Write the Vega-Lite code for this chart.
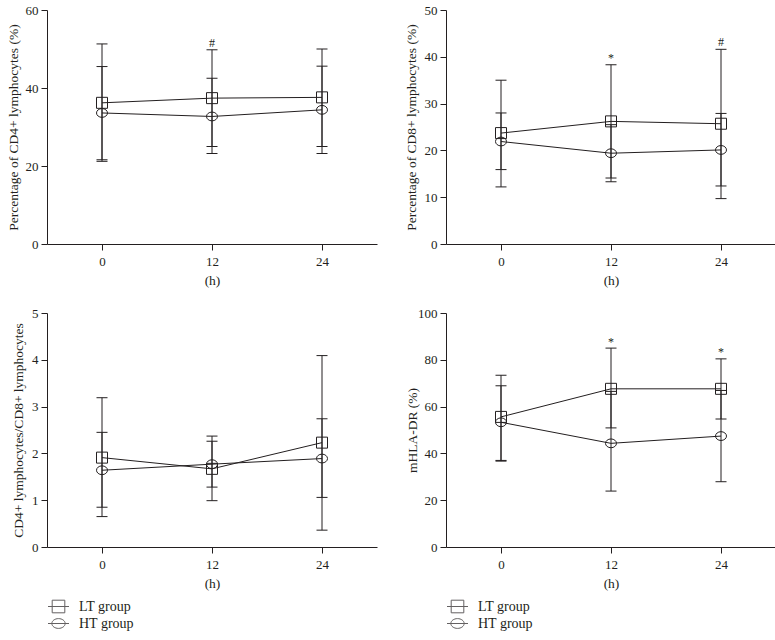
{
  "$schema": "https://vega.github.io/schema/vega-lite/v6.json",
  "background": "white",
  "padding": {"left": 5, "top": 4, "right": 5, "bottom": 5},
  "config": {
    "font": "Liberation Serif",
    "view": {"stroke": null},
    "axis": {
      "grid": false,
      "domainColor": "#231f20",
      "domainWidth": 1,
      "tickColor": "#231f20",
      "tickWidth": 1,
      "tickSize": 6,
      "labelColor": "#231f20",
      "titleColor": "#231f20",
      "labelFont": "Liberation Serif",
      "titleFont": "Liberation Serif",
      "labelFontSize": 13,
      "titleFontSize": 13.5,
      "titleFontWeight": "normal"
    },
    "axisX": {"labelPadding": 5, "titlePadding": 5, "labelFlush": false},
    "axisY": {"labelPadding": 3}
  },
  "datasets": {
    "obs": [
      {"panel": "cd4", "group": "LT group", "t": 0, "mean": 36.2, "lo": 21.2, "hi": 51.3},
      {"panel": "cd4", "group": "LT group", "t": 12, "mean": 37.4, "lo": 25.0, "hi": 49.8},
      {"panel": "cd4", "group": "LT group", "t": 24, "mean": 37.6, "lo": 25.0, "hi": 50.0},
      {"panel": "cd4", "group": "HT group", "t": 0, "mean": 33.6, "lo": 21.6, "hi": 45.5},
      {"panel": "cd4", "group": "HT group", "t": 12, "mean": 32.7, "lo": 23.2, "hi": 42.5},
      {"panel": "cd4", "group": "HT group", "t": 24, "mean": 34.4, "lo": 23.2, "hi": 45.6},
      {"panel": "cd8", "group": "LT group", "t": 0, "mean": 23.7, "lo": 12.2, "hi": 35.0},
      {"panel": "cd8", "group": "LT group", "t": 12, "mean": 26.2, "lo": 14.1, "hi": 38.3},
      {"panel": "cd8", "group": "LT group", "t": 24, "mean": 25.7, "lo": 9.7, "hi": 41.6},
      {"panel": "cd8", "group": "HT group", "t": 0, "mean": 21.9, "lo": 15.9, "hi": 28.0},
      {"panel": "cd8", "group": "HT group", "t": 12, "mean": 19.4, "lo": 13.3, "hi": 25.5},
      {"panel": "cd8", "group": "HT group", "t": 24, "mean": 20.1, "lo": 12.4, "hi": 27.9},
      {"panel": "ratio", "group": "LT group", "t": 0, "mean": 1.91, "lo": 0.65, "hi": 3.19},
      {"panel": "ratio", "group": "LT group", "t": 12, "mean": 1.67, "lo": 0.99, "hi": 2.37},
      {"panel": "ratio", "group": "LT group", "t": 24, "mean": 2.23, "lo": 0.36, "hi": 4.09},
      {"panel": "ratio", "group": "HT group", "t": 0, "mean": 1.64, "lo": 0.85, "hi": 2.45},
      {"panel": "ratio", "group": "HT group", "t": 12, "mean": 1.77, "lo": 1.28, "hi": 2.26},
      {"panel": "ratio", "group": "HT group", "t": 24, "mean": 1.89, "lo": 1.06, "hi": 2.74},
      {"panel": "hla", "group": "LT group", "t": 0, "mean": 55.6, "lo": 37.0, "hi": 73.4},
      {"panel": "hla", "group": "LT group", "t": 12, "mean": 67.6, "lo": 50.9, "hi": 85.0},
      {"panel": "hla", "group": "LT group", "t": 24, "mean": 67.6, "lo": 54.7, "hi": 80.4},
      {"panel": "hla", "group": "HT group", "t": 0, "mean": 53.3, "lo": 36.7, "hi": 68.9},
      {"panel": "hla", "group": "HT group", "t": 12, "mean": 44.3, "lo": 23.9, "hi": 66.5},
      {"panel": "hla", "group": "HT group", "t": 24, "mean": 47.4, "lo": 27.9, "hi": 66.9}
    ],
    "ann": [
      {"panel": "cd4", "t": 12, "y": 51.5, "label": "#"},
      {"panel": "cd8", "t": 12, "y": 39.7, "label": "*"},
      {"panel": "cd8", "t": 24, "y": 43.2, "label": "#"},
      {"panel": "hla", "t": 12, "y": 87.6, "label": "*"},
      {"panel": "hla", "t": 24, "y": 83.3, "label": "*"}
    ],
    "groups": [
      {"group": "LT group"},
      {"group": "HT group"}
    ]
  },
  "columns": 2,
  "spacing": {"row": 20, "column": 26},
  "resolve": {
    "scale": {"x": "independent", "y": "independent", "shape": "independent"},
    "legend": {"shape": "independent"}
  },
  "concat": [
    {
      "width": 330, "height": 234,
      "data": {"name": "obs"},
      "transform": [{"filter": "datum.panel === 'cd4'"}],
      "layer": [
        {"mark": {"type": "rule", "color": "#231f20", "strokeWidth": 1},
         "encoding": {
           "x": {"field": "t", "type": "quantitative", "title": "(h)", "scale": {"domain": [-6, 30], "nice": false, "zero": false}, "axis": {"values": [0, 12, 24]}},
           "y": {"field": "lo", "type": "quantitative", "title": "Percentage of CD4+ lymphocytes (%)", "scale": {"domain": [0, 60], "nice": false}, "axis": {"values": [0, 20, 40, 60], "titleX": -27}},
           "y2": {"field": "hi"}}},
        {"mark": {"type": "tick", "orient": "horizontal", "size": 11, "thickness": 1, "color": "#231f20", "opacity": 1},
         "encoding": {"x": {"field": "t", "type": "quantitative", "title": "(h)"}, "y": {"field": "lo", "type": "quantitative", "title": "Percentage of CD4+ lymphocytes (%)"}}},
        {"mark": {"type": "tick", "orient": "horizontal", "size": 11, "thickness": 1, "color": "#231f20", "opacity": 1},
         "encoding": {"x": {"field": "t", "type": "quantitative", "title": "(h)"}, "y": {"field": "hi", "type": "quantitative", "title": "Percentage of CD4+ lymphocytes (%)"}}},
        {"mark": {"type": "line", "color": "#231f20", "strokeWidth": 1},
         "encoding": {"x": {"field": "t", "type": "quantitative", "title": "(h)"}, "y": {"field": "mean", "type": "quantitative", "title": "Percentage of CD4+ lymphocytes (%)"}, "detail": {"field": "group"}}},
        {"transform": [{"filter": "datum.group === 'LT group'"}],
         "mark": {"type": "point", "shape": "M-1,-1H1V1H-1Z", "size": 121, "filled": false, "color": "#231f20", "strokeWidth": 1, "opacity": 1},
         "encoding": {"x": {"field": "t", "type": "quantitative", "title": "(h)"}, "y": {"field": "mean", "type": "quantitative", "title": "Percentage of CD4+ lymphocytes (%)"}}},
        {"transform": [{"filter": "datum.group === 'HT group'"}],
         "mark": {"type": "point", "shape": "M1,0A1,0.8 0 1,1 -1,0A1,0.8 0 1,1 1,0Z", "size": 121, "filled": false, "color": "#231f20", "strokeWidth": 1, "opacity": 1},
         "encoding": {"x": {"field": "t", "type": "quantitative", "title": "(h)"}, "y": {"field": "mean", "type": "quantitative", "title": "Percentage of CD4+ lymphocytes (%)"}}},
        {"data": {"name": "ann"},
         "transform": [{"filter": "datum.panel === 'cd4'"}],
         "mark": {"type": "text", "font": "Liberation Serif", "fontSize": 12, "color": "#231f20", "baseline": "middle"},
         "encoding": {"x": {"field": "t", "type": "quantitative", "title": "(h)"}, "y": {"field": "y", "type": "quantitative", "title": "Percentage of CD4+ lymphocytes (%)"}, "text": {"field": "label"}}}
      ]
    },
    {
      "width": 330, "height": 234,
      "data": {"name": "obs"},
      "transform": [{"filter": "datum.panel === 'cd8'"}],
      "layer": [
        {"mark": {"type": "rule", "color": "#231f20", "strokeWidth": 1},
         "encoding": {
           "x": {"field": "t", "type": "quantitative", "title": "(h)", "scale": {"domain": [-6, 30], "nice": false, "zero": false}, "axis": {"values": [0, 12, 24]}},
           "y": {"field": "lo", "type": "quantitative", "title": "Percentage of CD8+ lymphocytes (%)", "scale": {"domain": [0, 50], "nice": false}, "axis": {"values": [0, 10, 20, 30, 40, 50], "titleX": -28}},
           "y2": {"field": "hi"}}},
        {"mark": {"type": "tick", "orient": "horizontal", "size": 11, "thickness": 1, "color": "#231f20", "opacity": 1},
         "encoding": {"x": {"field": "t", "type": "quantitative", "title": "(h)"}, "y": {"field": "lo", "type": "quantitative", "title": "Percentage of CD8+ lymphocytes (%)"}}},
        {"mark": {"type": "tick", "orient": "horizontal", "size": 11, "thickness": 1, "color": "#231f20", "opacity": 1},
         "encoding": {"x": {"field": "t", "type": "quantitative", "title": "(h)"}, "y": {"field": "hi", "type": "quantitative", "title": "Percentage of CD8+ lymphocytes (%)"}}},
        {"mark": {"type": "line", "color": "#231f20", "strokeWidth": 1},
         "encoding": {"x": {"field": "t", "type": "quantitative", "title": "(h)"}, "y": {"field": "mean", "type": "quantitative", "title": "Percentage of CD8+ lymphocytes (%)"}, "detail": {"field": "group"}}},
        {"transform": [{"filter": "datum.group === 'LT group'"}],
         "mark": {"type": "point", "shape": "M-1,-1H1V1H-1Z", "size": 121, "filled": false, "color": "#231f20", "strokeWidth": 1, "opacity": 1},
         "encoding": {"x": {"field": "t", "type": "quantitative", "title": "(h)"}, "y": {"field": "mean", "type": "quantitative", "title": "Percentage of CD8+ lymphocytes (%)"}}},
        {"transform": [{"filter": "datum.group === 'HT group'"}],
         "mark": {"type": "point", "shape": "M1,0A1,0.8 0 1,1 -1,0A1,0.8 0 1,1 1,0Z", "size": 121, "filled": false, "color": "#231f20", "strokeWidth": 1, "opacity": 1},
         "encoding": {"x": {"field": "t", "type": "quantitative", "title": "(h)"}, "y": {"field": "mean", "type": "quantitative", "title": "Percentage of CD8+ lymphocytes (%)"}}},
        {"data": {"name": "ann"},
         "transform": [{"filter": "datum.panel === 'cd8'"}],
         "mark": {"type": "text", "font": "Liberation Serif", "fontSize": 12, "color": "#231f20", "baseline": "middle"},
         "encoding": {"x": {"field": "t", "type": "quantitative", "title": "(h)"}, "y": {"field": "y", "type": "quantitative", "title": "Percentage of CD8+ lymphocytes (%)"}, "text": {"field": "label"}}}
      ]
    },
    {
      "width": 330, "height": 234,
      "data": {"name": "obs"},
      "transform": [{"filter": "datum.panel === 'ratio'"}],
      "layer": [
        {"mark": {"type": "rule", "color": "#231f20", "strokeWidth": 1},
         "encoding": {
           "x": {"field": "t", "type": "quantitative", "title": "(h)", "scale": {"domain": [-6, 30], "nice": false, "zero": false}, "axis": {"values": [0, 12, 24]}},
           "y": {"field": "lo", "type": "quantitative", "title": "CD4+ lymphocytes/CD8+ lymphocytes", "scale": {"domain": [0, 5], "nice": false}, "axis": {"values": [0, 1, 2, 3, 4, 5], "titleX": -22}},
           "y2": {"field": "hi"}}},
        {"mark": {"type": "tick", "orient": "horizontal", "size": 11, "thickness": 1, "color": "#231f20", "opacity": 1},
         "encoding": {"x": {"field": "t", "type": "quantitative", "title": "(h)"}, "y": {"field": "lo", "type": "quantitative", "title": "CD4+ lymphocytes/CD8+ lymphocytes"}}},
        {"mark": {"type": "tick", "orient": "horizontal", "size": 11, "thickness": 1, "color": "#231f20", "opacity": 1},
         "encoding": {"x": {"field": "t", "type": "quantitative", "title": "(h)"}, "y": {"field": "hi", "type": "quantitative", "title": "CD4+ lymphocytes/CD8+ lymphocytes"}}},
        {"mark": {"type": "line", "color": "#231f20", "strokeWidth": 1},
         "encoding": {"x": {"field": "t", "type": "quantitative", "title": "(h)"}, "y": {"field": "mean", "type": "quantitative", "title": "CD4+ lymphocytes/CD8+ lymphocytes"}, "detail": {"field": "group"}}},
        {"transform": [{"filter": "datum.group === 'LT group'"}],
         "mark": {"type": "point", "shape": "M-1,-1H1V1H-1Z", "size": 121, "filled": false, "color": "#231f20", "strokeWidth": 1, "opacity": 1},
         "encoding": {"x": {"field": "t", "type": "quantitative", "title": "(h)"}, "y": {"field": "mean", "type": "quantitative", "title": "CD4+ lymphocytes/CD8+ lymphocytes"}}},
        {"transform": [{"filter": "datum.group === 'HT group'"}],
         "mark": {"type": "point", "shape": "M1,0A1,0.8 0 1,1 -1,0A1,0.8 0 1,1 1,0Z", "size": 121, "filled": false, "color": "#231f20", "strokeWidth": 1, "opacity": 1},
         "encoding": {"x": {"field": "t", "type": "quantitative", "title": "(h)"}, "y": {"field": "mean", "type": "quantitative", "title": "CD4+ lymphocytes/CD8+ lymphocytes"}}},
        {"data": {"name": "groups"},
         "transform": [{"filter": "datum.group === 'none'"}],
         "mark": {"type": "point", "filled": false, "color": "#231f20", "strokeWidth": 1},
         "encoding": {"shape": {"field": "group", "type": "nominal",
           "scale": {"domain": ["LT group", "HT group"], "range": ["M-1.5,0H1.5M-0.9,-0.9H0.9V0.9H-0.9Z", "M-1.5,0H1.5M0.95,0A0.95,0.7 0 1,1 -0.95,0A0.95,0.7 0 1,1 0.95,0Z"]},
           "legend": {"title": null, "orient": "none", "legendX": 4, "legendY": 286, "direction": "vertical", "padding": 0, "symbolSize": 196, "symbolStrokeWidth": 1, "symbolStrokeColor": "#231f20", "symbolFillColor": "transparent", "labelFont": "Liberation Serif", "labelFontSize": 14, "labelColor": "#231f20", "labelOffset": 13, "rowPadding": 1}}}}
      ]
    },
    {
      "width": 330, "height": 234,
      "data": {"name": "obs"},
      "transform": [{"filter": "datum.panel === 'hla'"}],
      "layer": [
        {"mark": {"type": "rule", "color": "#231f20", "strokeWidth": 1},
         "encoding": {
           "x": {"field": "t", "type": "quantitative", "title": "(h)", "scale": {"domain": [-6, 30], "nice": false, "zero": false}, "axis": {"values": [0, 12, 24]}},
           "y": {"field": "lo", "type": "quantitative", "title": "mHLA-DR (%)", "scale": {"domain": [0, 100], "nice": false}, "axis": {"values": [0, 20, 40, 60, 80, 100], "titleX": -27}},
           "y2": {"field": "hi"}}},
        {"mark": {"type": "tick", "orient": "horizontal", "size": 11, "thickness": 1, "color": "#231f20", "opacity": 1},
         "encoding": {"x": {"field": "t", "type": "quantitative", "title": "(h)"}, "y": {"field": "lo", "type": "quantitative", "title": "mHLA-DR (%)"}}},
        {"mark": {"type": "tick", "orient": "horizontal", "size": 11, "thickness": 1, "color": "#231f20", "opacity": 1},
         "encoding": {"x": {"field": "t", "type": "quantitative", "title": "(h)"}, "y": {"field": "hi", "type": "quantitative", "title": "mHLA-DR (%)"}}},
        {"mark": {"type": "line", "color": "#231f20", "strokeWidth": 1},
         "encoding": {"x": {"field": "t", "type": "quantitative", "title": "(h)"}, "y": {"field": "mean", "type": "quantitative", "title": "mHLA-DR (%)"}, "detail": {"field": "group"}}},
        {"transform": [{"filter": "datum.group === 'LT group'"}],
         "mark": {"type": "point", "shape": "M-1,-1H1V1H-1Z", "size": 121, "filled": false, "color": "#231f20", "strokeWidth": 1, "opacity": 1},
         "encoding": {"x": {"field": "t", "type": "quantitative", "title": "(h)"}, "y": {"field": "mean", "type": "quantitative", "title": "mHLA-DR (%)"}}},
        {"transform": [{"filter": "datum.group === 'HT group'"}],
         "mark": {"type": "point", "shape": "M1,0A1,0.8 0 1,1 -1,0A1,0.8 0 1,1 1,0Z", "size": 121, "filled": false, "color": "#231f20", "strokeWidth": 1, "opacity": 1},
         "encoding": {"x": {"field": "t", "type": "quantitative", "title": "(h)"}, "y": {"field": "mean", "type": "quantitative", "title": "mHLA-DR (%)"}}},
        {"data": {"name": "ann"},
         "transform": [{"filter": "datum.panel === 'hla'"}],
         "mark": {"type": "text", "font": "Liberation Serif", "fontSize": 12, "color": "#231f20", "baseline": "middle"},
         "encoding": {"x": {"field": "t", "type": "quantitative", "title": "(h)"}, "y": {"field": "y", "type": "quantitative", "title": "mHLA-DR (%)"}, "text": {"field": "label"}}},
        {"data": {"name": "groups"},
         "transform": [{"filter": "datum.group === 'none'"}],
         "mark": {"type": "point", "filled": false, "color": "#231f20", "strokeWidth": 1},
         "encoding": {"shape": {"field": "group", "type": "nominal",
           "scale": {"domain": ["LT group", "HT group"], "range": ["M-1.5,0H1.5M-0.9,-0.9H0.9V0.9H-0.9Z", "M-1.5,0H1.5M0.95,0A0.95,0.7 0 1,1 -0.95,0A0.95,0.7 0 1,1 0.95,0Z"]},
           "legend": {"title": null, "orient": "none", "legendX": 4, "legendY": 286, "direction": "vertical", "padding": 0, "symbolSize": 196, "symbolStrokeWidth": 1, "symbolStrokeColor": "#231f20", "symbolFillColor": "transparent", "labelFont": "Liberation Serif", "labelFontSize": 14, "labelColor": "#231f20", "labelOffset": 13, "rowPadding": 1}}}}
      ]
    }
  ]
}
